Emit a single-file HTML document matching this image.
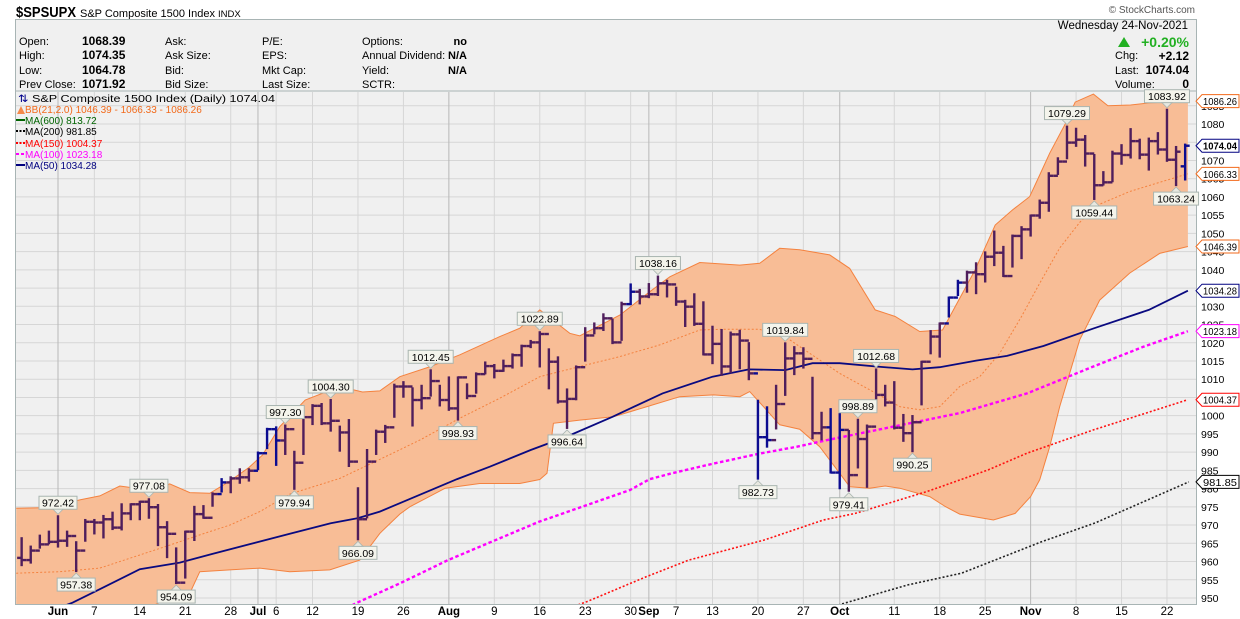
<!DOCTYPE html>
<html><head><meta charset="utf-8"><style>
html,body{margin:0;padding:0;background:#fff;}
svg{display:block;font-family:"Liberation Sans",Arial,sans-serif;}
</style></head><body>
<svg id="chart" width="1240" height="619" viewBox="0 0 1240 619" xmlns="http://www.w3.org/2000/svg">
<rect x="0" y="0" width="1240" height="619" fill="#fff"/>
<text x="16" y="17" font-size="15" font-weight="bold" fill="#000" textLength="60" lengthAdjust="spacingAndGlyphs">$SPSUPX</text>
<text x="80" y="17" font-size="11" fill="#000">S&amp;P Composite 1500 Index <tspan font-size="9.5">INDX</tspan></text>
<text x="1195" y="13" font-size="10" fill="#555" text-anchor="end">© StockCharts.com</text>
<rect x="15.5" y="19.5" width="1181" height="585" fill="#f0f0f0" stroke="#a8b4b4"/>
<line x1="15" y1="91" x2="1196" y2="91" stroke="#a8b4b4"/>
<g font-size="11" fill="#000">
<text x="19" y="45">Open:</text><text x="82" y="45" font-weight="bold" font-size="12">1068.39</text>
<text x="19" y="59">High:</text><text x="82" y="59" font-weight="bold" font-size="12">1074.35</text>
<text x="19" y="74">Low:</text><text x="82" y="74" font-weight="bold" font-size="12">1064.78</text>
<text x="19" y="88">Prev Close:</text><text x="82" y="88" font-weight="bold" font-size="12">1071.92</text>
<text x="165" y="45">Ask:</text><text x="165" y="59">Ask Size:</text><text x="165" y="74">Bid:</text><text x="165" y="88">Bid Size:</text>
<text x="262" y="45">P/E:</text><text x="262" y="59">EPS:</text><text x="262" y="74">Mkt Cap:</text><text x="262" y="88">Last Size:</text>
<text x="362" y="45">Options:</text><text x="362" y="59">Annual Dividend:</text><text x="362" y="74">Yield:</text><text x="362" y="88">SCTR:</text>
<text x="467" y="45" font-weight="bold" text-anchor="end">no</text><text x="467" y="59" font-weight="bold" text-anchor="end">N/A</text><text x="467" y="74" font-weight="bold" text-anchor="end">N/A</text>
<text x="1188" y="29" text-anchor="end" font-size="11.5">Wednesday  24-Nov-2021</text>
<polygon points="1118,47 1124,37 1130,47" fill="#22b022"/>
<text x="1189" y="47" text-anchor="end" font-size="14" font-weight="bold" fill="#22b022">+0.20%</text>
<text x="1115" y="59">Chg:</text><text x="1189" y="60" text-anchor="end" font-weight="bold" font-size="12">+2.12</text>
<text x="1115" y="74">Last:</text><text x="1189" y="74" text-anchor="end" font-weight="bold" font-size="12">1074.04</text>
<text x="1115" y="88">Volume:</text><text x="1189" y="88" text-anchor="end" font-weight="bold" font-size="12">0</text>
</g>
<g id="grid"></g>
<g id="bands"></g>
<g id="lines"></g>
<g id="bars"></g>
<g id="callouts"></g>
<g id="axes"></g>
<g id="legend" font-size="10">
<text x="18" y="102" fill="#000" textLength="257" lengthAdjust="spacingAndGlyphs"><tspan fill="#00008b">⇅</tspan> S&amp;P Composite 1500 Index (Daily) 1074.04</text>
<polygon points="17,114 21,106 25,114" fill="#f4894a"/>
<text x="25" y="113" fill="#f26a1b">BB(21,2.0) 1046.39 - 1066.33 - 1086.26</text>
<line x1="16" y1="120" x2="25" y2="120" stroke="#006400" stroke-width="2"/><text x="25" y="124" fill="#006400">MA(600) 813.72</text>
<line x1="16" y1="131" x2="25" y2="131" stroke="#000" stroke-width="2" stroke-dasharray="2 1.5"/><text x="25" y="135" fill="#000">MA(200) 981.85</text>
<line x1="16" y1="143" x2="25" y2="143" stroke="#ff0000" stroke-width="2" stroke-dasharray="2 1.5"/><text x="25" y="147" fill="#ff0000">MA(150) 1004.37</text>
<line x1="16" y1="154" x2="25" y2="154" stroke="#ff00ff" stroke-width="2" stroke-dasharray="3 2"/><text x="25" y="158" fill="#ff00ff">MA(100) 1023.18</text>
<line x1="16" y1="165" x2="25" y2="165" stroke="#000080" stroke-width="2"/><text x="25" y="169" fill="#000080">MA(50) 1034.28</text>
</g>
</svg>
<script>
// ---- data ----
const firstIndex = -4;
const highs = [966.4,964.1,967.1,968.2,972.42,968.2,965.3,971.4,971.4,972.5,973.4,975.7,975.7,976.4,977.08,975.5,970.8,963.6,968.2,975.0,975.2,978.7,982.6,983.1,985.3,985.3,989.9,996.4,996.8,997.3,990.1,999.6,1002.9,1003.2,1004.3,997.0,998.8,980.1,990.6,995.9,997.2,1008.5,1009.2,1007.5,1008.2,1012.45,1008.2,1010.5,1010.5,1008.6,1011.6,1014.6,1013.9,1015.1,1016.8,1019.2,1020.5,1022.89,1018.2,1016.0,1007.2,1013.5,1024.0,1025.3,1027.8,1026.3,1031.0,1036.0,1034.5,1036.1,1038.16,1037.0,1035.1,1031.5,1033.3,1031.1,1024.4,1023.5,1022.8,1023.3,1019.9,1004.1,1002.3,1008.2,1019.84,1018.8,1018.5,1010.4,1000.8,1001.8,1000.5,995.8,998.89,997.3,1012.68,1008.2,1009.2,1000.2,999.9,1014.8,1023.2,1025.3,1032.4,1037.0,1039.5,1041.8,1044.8,1050.5,1046.3,1049.4,1051.7,1054.9,1059.0,1066.5,1070.6,1079.29,1078.7,1076.7,1071.5,1066.8,1072.4,1074.2,1078.6,1075.7,1076.0,1077.5,1083.92,1073.7,1074.35];
const lows = [959.0,959.7,963.8,965.0,964.1,964.3,957.38,965.7,967.7,966.6,968.9,968.8,971.6,971.6,972.0,964.5,961.2,954.09,955.6,965.9,972.0,975.3,979.2,979.0,981.6,982.2,985.3,991.1,986.5,989.5,979.94,989.5,997.7,997.7,995.9,990.4,986.2,966.09,972.1,989.5,992.8,999.7,1005.2,997.3,1002.0,1005.5,1002.8,1001.6,998.93,1004.8,1006.3,1011.6,1010.5,1012.3,1013.2,1013.7,1018.8,1013.5,1007.5,1003.6,996.64,1004.5,1015.1,1022.6,1023.5,1019.9,1020.8,1030.6,1030.8,1032.5,1033.1,1032.7,1030.4,1024.6,1024.9,1016.8,1014.4,1011.2,1011.9,1013.0,1010.0,982.73,991.5,996.5,1005.7,1011.4,1013.2,993.8,993.5,984.4,980.1,979.41,985.8,980.5,1001.8,1002.8,996.5,993.1,990.25,1003.1,1017.1,1016.2,1027.2,1033.1,1034.0,1033.6,1036.8,1041.3,1038.3,1040.9,1043.2,1049.4,1054.3,1056.2,1066.3,1070.6,1074.0,1068.6,1059.44,1063.4,1064.3,1069.1,1070.8,1070.6,1067.5,1071.9,1069.9,1063.24,1064.78];
const closes = [960.4,963.0,964.7,965.4,965.7,967.0,963.0,970.9,970.7,971.6,969.3,973.2,975.7,976.4,974.9,969.4,967.6,954.2,968.2,973.0,972.0,978.5,981.7,982.8,983.1,984.9,989.7,996.3,993.2,996.3,987.1,999.6,1002.7,997.9,998.6,995.4,987.4,971.6,987.4,995.6,996.8,1008.0,1008.0,1004.3,1004.8,1009.5,1004.3,1002.0,1010.5,1005.4,1011.4,1013.6,1012.3,1013.6,1016.6,1019.1,1020.1,1022.4,1014.8,1003.9,1004.6,1013.3,1022.0,1024.0,1026.7,1020.1,1030.6,1034.0,1032.7,1033.3,1036.3,1036.0,1031.3,1029.9,1025.2,1016.8,1019.7,1013.5,1022.3,1020.6,1011.6,994.1,993.3,1003.2,1015.7,1017.1,1015.6,995.2,996.8,984.4,996.1,983.7,993.6,997.0,1005.7,1003.6,996.7,995.2,998.2,1014.8,1021.7,1025.3,1032.4,1036.5,1039.3,1038.8,1043.6,1044.7,1038.3,1049.3,1051.1,1054.9,1058.4,1065.8,1069.7,1074.9,1075.7,1071.9,1063.2,1064.0,1071.9,1071.5,1075.3,1071.6,1075.3,1073.0,1070.2,1072.4,1074.04];
const opens = [961.0,960.4,963.0,964.7,965.4,965.7,967.0,963.0,970.9,970.7,971.6,969.3,973.2,975.7,976.4,974.9,969.4,967.6,954.2,968.2,973.0,972.0,978.5,981.7,982.8,983.1,984.9,989.7,996.3,993.2,996.3,987.1,999.6,1002.7,997.9,998.6,995.4,987.4,971.6,987.4,995.6,996.8,1008.0,1008.0,1004.3,1004.8,1009.5,1004.3,1002.0,1010.5,1005.4,1011.4,1013.6,1012.3,1013.6,1016.6,1019.1,1020.1,1022.4,1014.8,1003.9,1004.6,1013.3,1022.0,1024.0,1026.7,1020.1,1030.6,1034.0,1032.7,1033.3,1036.3,1036.0,1031.3,1029.9,1025.2,1016.8,1019.7,1013.5,1022.3,1020.6,1011.6,994.1,993.3,1003.2,1015.7,1017.1,1015.6,995.2,996.8,984.4,996.1,983.7,993.6,997.0,1005.7,1003.6,996.7,995.2,998.2,1014.8,1021.7,1025.3,1032.4,1036.5,1039.3,1038.8,1043.6,1044.7,1038.3,1049.3,1051.1,1054.9,1058.4,1065.8,1069.7,1074.9,1075.7,1071.9,1063.2,1064.0,1071.9,1071.5,1075.3,1071.6,1075.3,1073.0,1070.2,1068.39];
const blueBars = [18,22,23,24,63,77,78,85,86,98,99,124];

const bbUpperIdx = [-4.6,-0.9,2.4,4.6,6.8,10.1,12.3,14.5,16.7,18.8,21,22.5,24.4,27.2,31,33.5,35.4,37.6,41,44.2,48.6,50.8,53,56.3,57.4,61.8,65.1,67.3,70.6,75,77.2,79.4,81.6,84.9,87.1,89.9,92.1,94.8,97.3,100.9,103.1,105,106.9,108,109.1,110.8,111.9,113.9,115.5,118,120,124.3];
const bbUpperVal = [974.6,974.8,976.9,978.0,980.7,979.6,981.3,978.9,978.7,981.9,985.8,989.2,997.0,1004.3,1008.0,1006.5,1006.8,1010.7,1013.5,1016.7,1021.7,1024.0,1029.0,1022.6,1021.9,1027.6,1034.0,1038.1,1042.0,1041.3,1041.8,1045.9,1045.5,1044.1,1040.4,1029.0,1027.2,1023.1,1023.5,1040.0,1052.3,1056.4,1060.1,1066.0,1072.0,1080.0,1086.0,1088.2,1085.0,1085.2,1085.8,1086.26];
const bbMidIdx = [-4.6,0.2,4.6,9,12.3,15.6,18.9,22.2,25.5,31,35.4,39.8,44.2,48.6,53,57.4,61.8,66.2,70.6,72.8,77.2,80.5,82.7,86,89.3,92.6,94.8,97,99.2,101.4,103.6,106,108,110.2,112.4,114.6,117.9,121.2,124.3];
const bbMidVal = [956.8,957.2,958.2,961.8,964.5,967.3,970.0,973.7,978.5,982.8,988.0,993.3,999.3,1004.8,1010.7,1013.5,1016.2,1019.4,1023.5,1023.7,1023.7,1020.8,1017.1,1011.6,1007.1,1002.5,1001.6,1002.5,1008.0,1010.7,1017.1,1027.2,1036.3,1046.0,1053.0,1058.0,1061.5,1064.0,1066.33];
const bbLowerIdx = [-4.6,5,10,11.2,14.5,15.6,18.9,22.2,25.5,29.9,33.2,35.4,37.6,38.7,42.6,46.4,50.8,53,53.8,54.5,57.4,61.1,64.8,68.4,72.1,75,76.1,77.6,79.4,81.6,83.8,86,87.1,89.3,91,92.6,95.9,97.6,99.2,102.9,105.3,107,108,109.1,110.2,112.4,114.6,117.9,121.2,124.3];
const bbLowerVal = [946.0,946.0,947.5,948.7,951.3,957.2,957.7,958.2,957.2,957.7,960.4,967.7,973.0,975.0,980.1,981.4,981.4,982.5,984.2,997.9,998.8,999.7,1002.5,1005.2,1005.7,1005.2,1006.6,1002.5,997.5,996.3,991.5,984.2,980.5,980.1,980.7,980.1,977.8,975.1,973.0,971.4,973.2,977.8,982.4,991.5,1002.5,1020.8,1031.7,1039.1,1044.5,1046.39];

const ma50Idx = [-4.6,1.6,4.6,9,13.4,17,21,25.5,30,33,35.4,38,43.9,47.5,52,56,61,66.5,72,76,80,83,86,90,94,97,101,104.4,108.4,114,120,124.3];
const ma50Val = [943,948.7,952.4,957.9,959.7,962.1,964.7,967.6,970.5,971.9,973.7,976.4,982.6,986.0,990.6,994.3,999.7,1006.1,1010.7,1012.7,1012.5,1014.4,1014.4,1013.5,1012.7,1013.3,1015.1,1016.4,1019.1,1024.0,1029.0,1034.28];
const ma100Idx = [30,32.9,37.6,42.9,52.9,62.9,65.1,67.7,72,77.2,81.3,84.6,91.9,99.2,106.6,113.9,119.4,124.3];
const ma100Val = [945,948.7,954.0,960.4,970.9,979.6,982.6,984.3,986.8,989.6,991.5,993.3,997.0,1000.7,1006.1,1013.5,1018.9,1023.18];
const ma150Idx = [56,58.2,64.7,69.4,77.7,84.2,87.7,95.6,97,102.3,106.6,113.9,124.3];
const ma150Val = [947,949.0,955.8,960.4,965.9,971.4,973.2,979.2,980.4,985.1,989.7,996.1,1004.37];
const ma200Idx = [85,86.7,93.5,99.4,108.2,114.1,124.4];
const ma200Val = [947.4,948.7,953.6,956.8,965.4,970.6,981.85];

const calloutIdx = [0,2,10,13,25,26,30,33,41,44,53,56,66,77,80,87,88,90,94,111,114,122,123];
const calloutVal = [972.42,957.38,977.08,954.09,997.30,979.94,1004.30,966.09,1012.45,998.93,1022.89,996.64,1038.16,982.73,1019.84,979.41,998.89,1012.68,990.25,1079.29,1059.44,1083.92,1063.24];
const calloutAbove = [1,0,1,0,1,0,1,0,1,0,1,0,1,0,1,0,1,1,0,1,0,1,0];

const xTickLabels = ['Jun','7','14','21','28','Jul','6','12','19','26','Aug','9','16','23','30','Sep','7','13','20','27','Oct','11','18','25','Nov','8','15','22'];
const xTickIdx = [0,4,9,14,19,22,24,28,33,38,43,48,53,58,63,65,68,72,77,82,86,92,97,102,107,112,117,122];
const xTickMonth = [1,0,0,0,0,1,0,0,0,0,1,0,0,0,0,1,0,0,0,0,1,0,0,0,1,0,0,0];
const yTicks = [950,955,960,965,970,975,980,985,990,995,1000,1005,1010,1015,1020,1025,1030,1035,1040,1045,1050,1055,1060,1065,1070,1075,1080,1085];

const tagVals = [1086.26,1074.04,1066.33,1046.39,1034.28,1023.18,1004.37,981.85];
const tagColors = ['#f26a1b','#000080','#f26a1b','#f26a1b','#000080','#ff00ff','#ff0000','#000'];

// ---- scales ----
const PL=16, PR=1196, PT=92, PB=604;
function xs(i){ return 58 + i*9.09; }
function ys(v){ return 124 + (1080 - v)*3.646; }
const NS='http://www.w3.org/2000/svg';
function mk(tag, attrs, parent){ const e=document.createElementNS(NS,tag); for(const k in attrs) e.setAttribute(k,attrs[k]); parent.appendChild(e); return e; }
const svg=document.getElementById('chart');
const defs=mk('defs',{},svg);
const cp=mk('clipPath',{id:'plotclip'},defs);
mk('rect',{x:PL,y:PT,width:PR-PL,height:PB-PT},cp);

// grid
const grid=document.getElementById('grid');
yTicks.forEach(v=>{
  const l=mk('line',{x1:PL,x2:PR,y1:ys(v),y2:ys(v),stroke:'#d6d6d6','stroke-width':1},grid);
  
  
});
xTickIdx.forEach((i,k)=>{
  const l=mk('line',{x1:xs(i),x2:xs(i),y1:PT,y2:PB,stroke:xTickMonth[k]?'#b8b8b8':'#d6d6d6','stroke-width':1},grid);
  
  
});

function pathFrom(idx,val){ return idx.map((i,k)=>(k?'L':'M')+xs(i).toFixed(1)+','+ys(val[k]).toFixed(1)).join(''); }

// bands
const bands=document.getElementById('bands');
bands.setAttribute('clip-path','url(#plotclip)');
let area=pathFrom(bbUpperIdx,bbUpperVal);
for(let k=bbLowerIdx.length-1;k>=0;k--) area+='L'+xs(bbLowerIdx[k]).toFixed(1)+','+ys(bbLowerVal[k]).toFixed(1);
area+='Z';
const bf=mk('path',{d:area,fill:'#f8bd96',stroke:'none'},bands);


const bu=mk('path',{d:pathFrom(bbUpperIdx,bbUpperVal),fill:'none',stroke:'#f4823f','stroke-width':1},bands);


const bl=mk('path',{d:pathFrom(bbLowerIdx,bbLowerVal),fill:'none',stroke:'#f4823f','stroke-width':1},bands);


const bm=mk('path',{d:pathFrom(bbMidIdx,bbMidVal),fill:'none',stroke:'#f4823f','stroke-width':1,'stroke-dasharray':'2 2'},bands);



// MA lines
const lines=document.getElementById('lines');
lines.setAttribute('clip-path','url(#plotclip)');
const m200=mk('path',{d:pathFrom(ma200Idx,ma200Val),fill:'none',stroke:'#222','stroke-width':1.6,'stroke-dasharray':'2 2'},lines);


const m150=mk('path',{d:pathFrom(ma150Idx,ma150Val),fill:'none',stroke:'#ff1010','stroke-width':1.6,'stroke-dasharray':'2 2'},lines);


const m100=mk('path',{d:pathFrom(ma100Idx,ma100Val),fill:'none',stroke:'#ff00ff','stroke-width':2.4,'stroke-dasharray':'3.5 2.5'},lines);


const m50=mk('path',{d:pathFrom(ma50Idx,ma50Val),fill:'none',stroke:'#0a0a80','stroke-width':1.8},lines);



// OHLC bars
const bars=document.getElementById('bars');
bars.setAttribute('clip-path','url(#plotclip)');
highs.forEach((h,k)=>{
  const i=firstIndex+k, x=xs(i);
  const col=blueBars.indexOf(i)>=0?'#0c0c90':'#4f1e5c';
  const g=mk('g',{stroke:col,'stroke-width':2.4},bars);
  
  
  mk('line',{x1:x,x2:x,y1:ys(h)-1,y2:ys(lows[k])+1},g);
  mk('line',{x1:x-4.5,x2:x,y1:ys(opens[k]),y2:ys(opens[k])},g);
  mk('line',{x1:x,x2:x+4.5,y1:ys(closes[k]),y2:ys(closes[k])},g);
});

// callouts
const co=document.getElementById('callouts');
calloutIdx.forEach((i,k)=>{
  const x=xs(i), v=calloutVal[k], y=ys(v), up=calloutAbove[k];
  const g=mk('g',{},co);
  
  
  const w=(v>=1000?45:38), h=13;
  const by= up ? y-3-4-h : y+3+4;
  mk('rect',{x:x-w/2,y:by,width:w,height:h,fill:'#f4f4ec',stroke:'#a9b5b0','stroke-width':1},g);
  const ty = up ? by+h : by;
  mk('polygon',{points: up ? `${x-5},${ty} ${x+5},${ty} ${x},${ty+5}` : `${x-5},${ty} ${x+5},${ty} ${x},${ty-5}`, fill:'#e8e8e0',stroke:'#a9b5b0','stroke-width':0.8},g);
  const t=mk('text',{x:x,y:by+10.5,'font-size':10.5,'text-anchor':'middle',fill:'#000'},g);
  t.textContent=v.toFixed(2);
});

// axes
const ax=document.getElementById('axes');
xTickIdx.forEach((i,k)=>{
  const t=mk('text',{x:xs(i),y:615,'font-size':11.5,'text-anchor':'middle',fill:'#000','font-weight':xTickMonth[k]?'bold':'normal'},ax);
  
  
  t.textContent=xTickLabels[k];
});
yTicks.forEach(v=>{
  const t=mk('text',{x:1201,y:ys(v)+4,'font-size':10.5,fill:'#000'},ax);
  
  
  t.textContent=v;
});
tagVals.forEach((v,k)=>{
  const y=ys(v);
  const g=mk('g',{},ax);
  
  
  mk('polygon',{points:`1196,${y} 1202,${y-6.5} 1239,${y-6.5} 1239,${y+6.5} 1202,${y+6.5}`,fill:'#fff',stroke:tagColors[k],'stroke-width':1},g);
  const t=mk('text',{x:1203,y:y+4,'font-size':10.5,fill:'#000','font-weight':k===1?'bold':'normal',textLength:34,lengthAdjust:'spacingAndGlyphs'},g);
  t.textContent=v.toFixed(2);
});
</script>
</body></html>
